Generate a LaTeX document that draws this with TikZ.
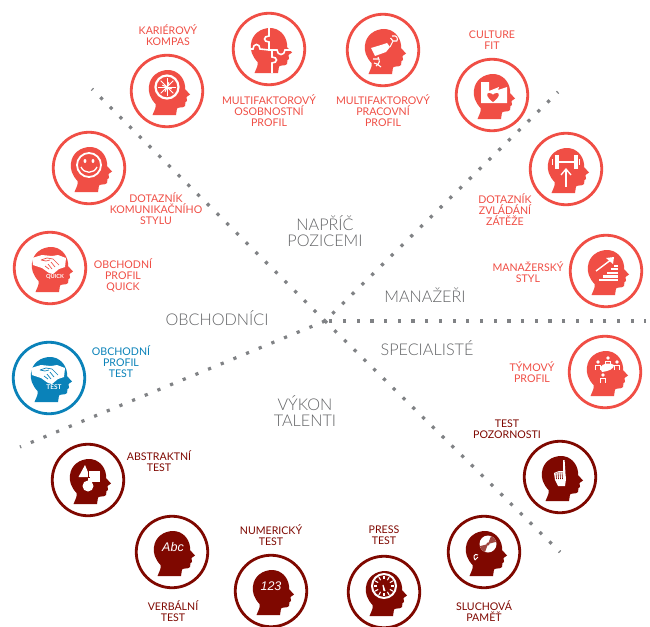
\documentclass[tikz,border=0pt]{standalone}
\usepackage{fontspec}
\setmainfont{Lato}
\newfontfamily\lightfont{Lato Light}
\newfontfamily\abcfont{Liberation Sans}
\definecolor{cred}{HTML}{F04E45}
\definecolor{cdark}{HTML}{7F0800}
\definecolor{cblue}{HTML}{0A82B9}
\definecolor{cgrey}{HTML}{636466}
\definecolor{cdot}{HTML}{808285}
\tikzset{
  ring/.style={circle,draw,line width=2.8pt,minimum size=71.5pt,inner sep=0pt},
  lab/.style={align=center,inner sep=0pt,font=\fontsize{10.6pt}{11pt}\selectfont},
  biglab/.style={align=center,inner sep=0pt,text=cgrey,font=\lightfont\fontsize{16.2pt}{16.5pt}\selectfont},
  dotline/.style={draw=cdot,line width=3.2pt,dash pattern=on 3.2pt off 10.5pt},
  wl/.style={draw=white,line width=#1,fill=none},
  wl/.default=1.2pt
}
\newcommand{\headpath}{(-14.5,24) .. controls (-12.5,19) and (-10.5,16) .. (-11.5,13)
  .. controls (-17,7) and (-19,1) .. (-18,-5)
  .. controls (-17,-15) and (-8,-21) .. (1,-21)
  .. controls (10,-21) and (17,-14) .. (18,-5)
  -- (18,-2) -- (23,3.5) -- (19.5,6) -- (20,10) -- (18.5,11) -- (18,15)
  .. controls (16,17.5) and (12,15.5) .. (10,17.5) -- (9,24) -- cycle}
\newcommand{\icon}[5]{%
  \node[ring,draw=#4] (#1) at (#2,#3) {};
  \begin{scope}[shift={(#2,#3)}]
    \fill[#4] \headpath;
    #5
  \end{scope}}
\newcommand{\handshake}[1]{%
  \fill[white] (-18,-10) -- (-8,-13) -- (2,-12) -- (8,-13) -- (16,-10) -- (15,-1) -- (9,1) -- (3,6) -- (-1,5) -- (-8,0) -- (-17,-3) -- cycle;
  \draw[#1,line width=.7pt] (-9,-8) -- (-3,-10) -- (3,-9) -- (9,-3) (-9,-8) -- (-4,-7) -- (0,-8) (-5,-2) -- (-1,1) (-2,-4) -- (2,1) (1,-6) -- (5,-1);}
\newcommand{\person}[2]{%
  \fill[white] (#1,#2) circle (1.9);
  \draw[white,line width=1pt] (#1-2.6,#2+8) -- (#1-2.6,#2+3.2) -- (#1+2.6,#2+3.2) -- (#1+2.6,#2+8);}
\begin{document}
\begin{tikzpicture}[x=1pt,y=-1pt]
\useasboundingbox (0,0) rectangle (650,626);
\fill[white] (0,0) rectangle (650,626);
% rays
\coordinate (hub) at (325,321);
\coordinate (endnw) at (92,89);
\coordinate (endne) at (558,92);
\coordinate (ende) at (646,321);
\coordinate (endse) at (560,552);
\coordinate (endsw) at (20,447);
\draw[dotline,dash phase=2pt] (endnw) -- (hub);
\draw[dotline,dash phase=2pt] (endne) -- (hub);
\draw[dotline,dash phase=1.5pt] (ende) -- (hub);
\draw[dotline,dash phase=2pt] (endse) -- (hub);
\draw[dotline,dash phase=2pt] (endsw) -- (hub);
% compass
\icon{kompas}{167}{91}{cred}{
  \draw[wl=2.2pt] (0,-4) circle (11.5);
  \foreach \a in {0,45,...,315}{\draw[wl=.9pt] (0,-4) -- ++(\a:9);}
  \foreach \a in {22,112,202,292}{\draw[wl=1.2pt] (0,-4) -- ++(\a:5);}
}
% puzzle
\icon{puzzle}{269}{49}{cred}{
  \draw[wl=1.6pt] (0,-22) -- (0,-13) .. controls (-6,-13) and (-6,-7) .. (0,-7) -- (0,2);
  \draw[wl=1.6pt] (-19,0) -- (-16,0) .. controls (-16,-6) and (-9,-6) .. (-9,0) -- (0,1) -- (8,1) .. controls (8,7) and (16,7) .. (16,1) -- (22,1);
  \draw[wl=1.6pt] (3,2) -- (3,8) .. controls (9,8) and (9,14) .. (3,14) -- (3,24);
}
% pracovni
\icon{pracovni}{383}{50}{cred}{
  \fill[white] (-12,-2) -- (-2,-5) -- (4,-7) -- (7,-3) -- (3,2) -- (-8,6) -- cycle;
  \draw[wl=1.1pt] (7,-3) -- (10,-9) (7.5,-12) -- (10,-9) -- (14,-9) (9,-14) .. controls (14,-15) and (15,-12) .. (14,-9);
  \draw[wl=1.1pt] (-5,7) .. controls (-3,11) and (-3,13) .. (-7,16) (-10,9) -- (-5,9) (-6,14) -- (-2,17) (-9,13) -- (-6,14);
}
% culture
\icon{culture}{492}{95}{cred}{
  \fill[white] (-11,-13) -- (-3,-13) -- (-3,-4) -- (7,-8) -- (6,-5) -- (15,-8) -- (15,8) -- (-11,8) -- cycle;
  \fill[cred] (1,7) .. controls (-6,2) and (-6,-2) .. (-3,-2) .. controls (-1,-2) and (1,-1) .. (1,0) .. controls (1,-1) and (3,-2) .. (5,-2) .. controls (8,-2) and (8,2) .. (1,7) -- cycle;
}
% zatez
\icon{zatez}{566}{169}{cred}{
  \fill[white] (-11.5,-14) rectangle (-7.5,0);
  \fill[white] (7.5,-14) rectangle (11.5,0);
  \fill[white] (-7.5,-8) rectangle (7.5,-6);
  \fill[white] (-14,-10) rectangle (-13,-4);
  \fill[white] (13,-10) rectangle (14,-4);
  \draw[wl=1.3pt] (0,18) -- (0,1);
  \draw[wl=1.3pt] (-5,6) -- (0,0) -- (5,6);
}
% manazersky
\icon{manazer}{606}{271}{cred}{
  \fill[white] (-7,8) rectangle (12,10.4);
  \fill[white] (-3,4.3) rectangle (12,6.7);
  \fill[white] (1,.6) rectangle (12,3);
  \fill[white] (5,-3) rectangle (12,-.7);
  \fill[white] (8,-6.5) rectangle (12,-4.2);
  \draw[wl=1.4pt] (-10,0) -- (6,-12);
  \fill[white] (8,-14) -- (0,-13) -- (7,-7) -- cycle;
}
% tymovy
\icon{tymovy}{605}{372}{cred}{
  \fill[white] (-5,-4) .. controls (-3,-9) and (5,-10) .. (9,-7) .. controls (9,-3) and (4,-1) .. (-3,0) -- cycle;
  \person{-7}{-10}
  \person{3}{-14}
  \person{12}{-10}
  \person{-2}{3}
}
% pozornost
\icon{pozornost}{560}{477}{cdark}{
  \fill[white] (3.2,-17) -- (4.6,-17) -- (5.5,-3) -- (6,2) -- (5,9) -- (-2,9) -- (-5,3) -- (-6,-4) -- (-1,-6) -- (3.2,-6) -- cycle;
  \draw[cdark,line width=.6pt] (-4,-4) -- (-3.5,2) (-2,-5) -- (-1.5,2) (0,-5) -- (.5,2) (2,-5) -- (2.5,2);
}
% sluchova
\icon{sluchova}{484}{552}{cdark}{
  \fill[white] (4,-8) circle (8.5);
  \fill[cdark!75!white] (4,-8) -- (7,-16) arc (-70:-15:8.5) -- cycle;
  \fill[cdark!75!white] (4,-8) -- (1,0) arc (110:165:8.5) -- cycle;
  \fill[cdark] (4,-8) circle (1.6);
  \fill[white] (4,-8) circle (.7);
  \draw[wl=1pt] (-6,3) .. controls (-10,1) and (-11,5) .. (-9,8) (-9,8) -- (-6,5);
}
% press
\icon{press}{384}{592}{cdark}{
  \draw[wl=2pt] (0,-6) circle (12);
  \foreach \a in {0,30,...,330}{\draw[wl=1.1pt] (0,-6) ++(\a:6.8) -- ++(\a:3.4);}
  \draw[wl=1.1pt] (0,-1) -- (-1,-7) -- (1,-1);
}
% numericky
\icon{numer}{271}{591}{cdark}{
  \node[text=white,inner sep=0pt,font=\abcfont\itshape\fontsize{12.5pt}{13pt}\selectfont] (numtxt) at (0,-5) {123};
}
% verbalni
\icon{verbal}{172}{552}{cdark}{
  \node[text=white,inner sep=0pt,font=\abcfont\itshape\fontsize{12.5pt}{13pt}\selectfont] (abctxt) at (1,-5) {Abc};
}
% abstraktni
\icon{abstr}{88}{480}{cdark}{
  \fill[white] (-3,-15) -- (-9.5,-3) -- (2,-3) -- cycle;
  \fill[white] (0,-9) rectangle (12,2);
  \draw[cdark,line width=.5pt] (0,-9) -- (0,-3) -- (2,-3);
  \fill[white] (0,6) circle (5.5);
}
% test
\icon{test}{49}{378}{cblue}{
  \handshake{cblue}
  \node[text=white,inner sep=0pt,font=\bfseries\fontsize{6.5pt}{7pt}\selectfont] (testtxt) at (5,9) {TEST};
}
% quick
\icon{quick}{50}{268}{cred}{
  \handshake{cred}
  \node[text=white,inner sep=0pt,font=\bfseries\fontsize{5.6pt}{6pt}\selectfont] (quicktxt) at (5,9) {QUICK};
}
% komunik
\icon{komunik}{89}{168}{cred}{
  \draw[wl=1.8pt] (0,-3) circle (12);
  \fill[white] (-4,-7) ellipse (1.4 and 2);
  \fill[white] (4,-7) ellipse (1.4 and 2);
  \draw[wl=1.3pt] (-8,-1) .. controls (-5,6) and (5,6) .. (8,-1);
}
% small labels
\node[lab,text=cred] (l1) at (168,35.5) {KARIÉROVÝ\\KOMPAS};
\node[lab,text=cred] (l2) at (269,110.5) {MULTIFAKTOROVÝ\\OSOBNOSTNÍ\\PROFIL};
\node[lab,text=cred] (l3) at (383,110.5) {MULTIFAKTOROVÝ\\PRACOVNÍ\\PROFIL};
\node[lab,text=cred] (l4) at (492,40) {CULTURE\\FIT};
\node[lab,text=cred] (l5) at (505,210) {DOTAZNÍK\\ZVLÁDÁNÍ\\ZÁTĚŽE};
\node[lab,text=cred] (l6) at (528,272.5) {MANAŽERSKÝ\\STYL};
\node[lab,text=cred] (l7) at (532,372.5) {TÝMOVÝ\\PROFIL};
\node[lab,text=cdark] (l8) at (507,429) {TEST\\POZORNOSTI};
\node[lab,text=cdark] (l9) at (484,611.5) {SLUCHOVÁ\\PAMĚŤ};
\node[lab,text=cdark] (l10) at (384,535.5) {PRESS\\TEST};
\node[lab,text=cdark] (l11) at (271,535.5) {NUMERICKÝ\\TEST};
\node[lab,text=cdark] (l12) at (173,611.5) {VERBÁLNÍ\\TEST};
\node[lab,text=cdark] (l13) at (159,461) {ABSTRAKTNÍ\\TEST};
\node[lab,text=cblue] (l14) at (121,362) {OBCHODNÍ\\PROFIL\\TEST};
\node[lab,text=cred] (l15) at (123,275) {OBCHODNÍ\\PROFIL\\QUICK};
\node[lab,text=cred] (l16) at (156,209) {DOTAZNÍK\\KOMUNIKAČNÍHO\\STYLU};
% big labels
\node[biglab] (b1) at (325,231) {NAPŘÍČ\\POZICEMI};
\node[biglab] (b2) at (425,295.5) {MANAŽEŘI};
\node[biglab] (b3) at (217,318) {OBCHODNÍCI};
\node[biglab] (b4) at (427,348) {SPECIALISTÉ};
\node[biglab] (b5) at (305,411) {VÝKON\\TALENTI};
\end{tikzpicture}
\end{document}
